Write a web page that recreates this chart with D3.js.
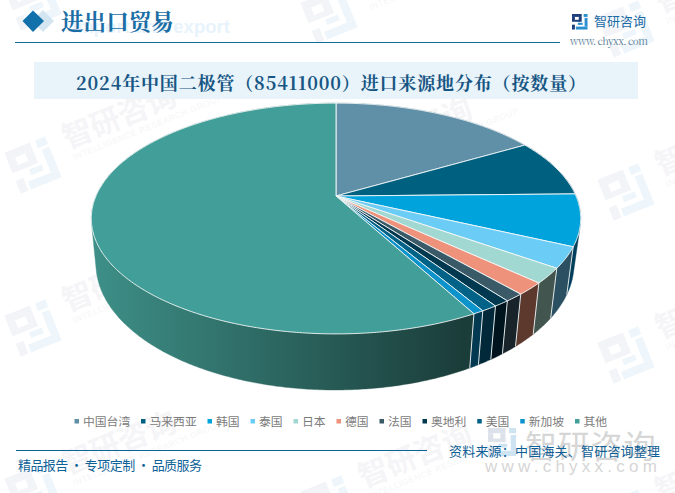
<!DOCTYPE html>
<html><head><meta charset="utf-8">
<script src="https://cdnjs.cloudflare.com/ajax/libs/d3/7.8.5/d3.min.js"></script>
<style>html,body{margin:0;padding:0;background:#fff}svg{display:block}</style>
</head><body><svg id="c" width="675" height="493"></svg>
<script>
const categories=["中国台湾","马来西亚","韩国","泰国","日本","德国","法国","奥地利","美国","新加坡","其他"];
const values=[16.6,8.1,7.2,2.9,2.1,1.7,1.1,0.9,0.9,0.6,57.9];
const topColors=["#5f90a8","#006080","#00a3dc","#6bcdf6","#a1d8d2","#ee927b","#3a5a68","#00384f","#006287","#0c93cb","#419e98"];
const wallColors=[["#3a5a6a","#3a5a6a"],["#003a50","#003a50"],["#01466a","#013f5c"],["#2b5064","#2b5062"],["#445a52","#42564f"],["#5e3a2e","#5c382d"],["#18252c","#18232a"],["#00141d","#00141d"],["#02293a","#02293a"],["#053a56","#033a52"],["#3d8f87","#1b3d3a"]];
const title="2024年中国二极管（85411000）进口来源地分布（按数量）";
const heading="进出口贸易";
const footerLeft="精品报告 · 专项定制 · 品质服务";
const footerRight="资料来源：中国海关、智研咨询整理";

const svg=d3.select("#c");
const CJK='"Noto Sans CJK SC","Noto Sans",sans-serif';
const SERIF='"Noto Serif CJK SC","Liberation Serif","Noto Sans CJK SC",serif';
const defs=svg.append("defs");

// ---- logo helper
const logoDark=[[0,0,10,3],[7,3,3,5],[0,3,3,5],[3,6,5,2],[0,11,3,5]];
const logoLight=[[12,0,4,3],[13,4,3,9],[4,13,12,3],[6,9,5,2.2]];
function logo(g,s,c1,c2){
  g.selectAll(null).data(logoDark).enter().append("rect")
   .attr("x",d=>d[0]*s).attr("y",d=>d[1]*s).attr("width",d=>d[2]*s).attr("height",d=>d[3]*s).attr("fill",c1);
  g.selectAll(null).data(logoLight).enter().append("rect")
   .attr("x",d=>d[0]*s).attr("y",d=>d[1]*s).attr("width",d=>d[2]*s).attr("height",d=>d[3]*s).attr("fill",c2);
}
// ---- watermarks
const wmAnchors=[[33,2],[33,165],[33,328],[33,491],[329,15],[329,178],[329,341],[329,504],[626,29],[626,192],[626,355],[626,518]];
const wm=svg.append("g");
wmAnchors.forEach(([x,y])=>{
  const g=wm.append("g").attr("transform",`translate(${x},${y}) rotate(-22)`);
  logo(g.append("g").attr("transform","translate(-22,-22)"),2.75,"#f2f4f8","#eef6fb");
  g.append("text").attr("x",38).attr("y",-2).attr("font-family",CJK).attr("font-size",30).attr("font-weight",700).attr("fill","#f5f5f7").text("智研咨询");
  g.append("text").attr("x",40).attr("y",11).attr("font-family",'"Liberation Sans",sans-serif').attr("font-size",8.5).attr("letter-spacing",.6).attr("fill","#f5f6f8").text("INTELLIGENCE RESEARCH GROUP");
});

// ---- header
svg.append("path").attr("d","M43 10L54 21L43 32L32 21Z").attr("fill","#d3e5f0");
svg.append("path").attr("d","M33 10.5L44 21L33 32L22.5 21Z").attr("fill","#1270aa");
svg.append("text").attr("x",72).attr("y",33).attr("font-family",'"Liberation Sans",sans-serif').attr("font-weight",700).attr("font-size",18.5).attr("textLength",158).attr("fill","#e8f3fb").text("Import and export");
svg.append("text").attr("x",61).attr("y",30).attr("font-family",SERIF).attr("font-weight",700).attr("font-size",22.6).attr("fill","#1b6ea5").text(heading);
svg.append("line").attr("x1",15).attr("x2",560).attr("y1",42.5).attr("y2",42.5).attr("stroke","#116a9e").attr("stroke-width",1);
logo(svg.append("g").attr("transform","translate(572,14)"),.97,"#1d3f7c","#2b8fd0");
svg.append("text").attr("x",594).attr("y",26).attr("font-family",CJK).attr("font-size",13).attr("fill","#1c6aa3").text("智研咨询");
svg.append("text").attr("x",570).attr("y",44.5).attr("font-family",SERIF).attr("font-size",10).attr("textLength",78).attr("fill","#5a7d95").text("www. chyxx. com");

// ---- title band
svg.append("rect").attr("x",34).attr("y",62).attr("width",604).attr("height",37).attr("fill","#e8f3fa");
svg.append("text").attr("x",76).attr("y",90).attr("font-family",SERIF).attr("font-weight",700).attr("font-size",18).attr("textLength",510).attr("lengthAdjust","spacing").attr("fill","#175683").text(title);

// ---- pie in perspective
const cx=336,cy=196,rx=240,ry=111,k=0.195,wallScale=0.977,wallShift=-1,wallDrop=43,wallStretch=1.095;
const xScale=d3.scaleLinear().domain([-1,1]).range([cx-rx,cx+rx]);
const yScale=d3.scaleLinear().domain([-1,1]).range([cy-ry,cy+ry]);
function topPt(a){const w=1+k*Math.cos(a);return [xScale(Math.sin(a)/w),yScale(-Math.cos(a)/w)];}
function botPt(a){const p=topPt(a);return [cx+wallShift+(p[0]-cx)*wallScale,cy+wallDrop+(p[1]-cy)*wallStretch];}
function samples(d){const n=Math.max(2,Math.ceil((d.endAngle-d.startAngle)/0.01));return d3.range(n+1).map(i=>d.startAngle+(d.endAngle-d.startAngle)*i/n);}
const arcs=d3.pie().sort(null).value(d=>d)(values);
const line=d3.line();
arcs.forEach((d,i)=>{
  const gr=defs.append("linearGradient").attr("id","w"+i).attr("gradientUnits","userSpaceOnUse").attr("x1",95).attr("x2",462).attr("y1",0).attr("y2",0);
  gr.append("stop").attr("offset",0).attr("stop-color",wallColors[i][0]);
  gr.append("stop").attr("offset",1).attr("stop-color",wallColors[i][1]);
});
const walls=svg.append("g");
arcs.forEach((d,i)=>{
  const as=samples(d);
  const hull=d3.polygonHull(as.map(topPt).concat(as.map(botPt)));
  walls.append("path").attr("d",line(hull)+"Z").attr("fill",`url(#w${i})`).attr("stroke",`url(#w${i})`).attr("stroke-width",.4);
});
arcs.forEach(d=>{
  const a=d.endAngle;
  if(a>Math.PI*0.6&&a<Math.PI*1.5){
    walls.append("path").attr("d",line([topPt(a),botPt(a)])).attr("stroke","#dfe6e8").attr("stroke-width",1).attr("fill","none");
  }
});
const tops=svg.append("g");
arcs.forEach((d,i)=>{
  const pts=[[cx,cy]].concat(samples(d).map(topPt));
  tops.append("path").attr("d",line(pts)+"Z").attr("fill",topColors[i]).attr("stroke","#f4f8f8").attr("stroke-width",.9).attr("stroke-linejoin","round");
});

// ---- bottom watermark
const bw=svg.append("g");
logo(bw.append("g").attr("transform","translate(488,428)"),1.75,"#dde2ea","#cfe4f2");
bw.append("text").attr("x",525).attr("y",458).attr("font-family",CJK).attr("font-size",32).attr("letter-spacing",.8).attr("fill","#d6d6d6").text("智研咨询");
bw.append("text").attr("x",485).attr("y",472).attr("font-family",'"Liberation Sans",sans-serif').attr("font-size",17).attr("textLength",172).attr("fill","#d6d6d6").text("www.chyxx.com");

// ---- legend
let lx=76.5;
const legend=svg.append("g");
categories.forEach((c,i)=>{
  legend.append("rect").attr("x",lx-2).attr("y",419).attr("width",4.5).attr("height",4.5).attr("fill",topColors[i]);
  legend.append("text").attr("x",lx+6.5).attr("y",425.5).attr("font-family",CJK).attr("font-size",11.8).attr("fill","#7b7b7b").text(c);
  lx+=6.5+c.length*11.75+13;
});

// ---- footer
svg.append("line").attr("x1",16).attr("x2",427).attr("y1",450.5).attr("y2",450.5).attr("stroke","#0f6297").attr("stroke-width",1);
svg.append("text").attr("x",18).attr("y",469.5).attr("font-family",CJK).attr("font-size",13).attr("textLength",184).attr("fill","#0f6297").text(footerLeft);
svg.append("text").attr("x",449).attr("y",456).attr("font-family",CJK).attr("font-size",13).attr("textLength",211).attr("fill","#0f5f96").text(footerRight);
</script></body></html>
